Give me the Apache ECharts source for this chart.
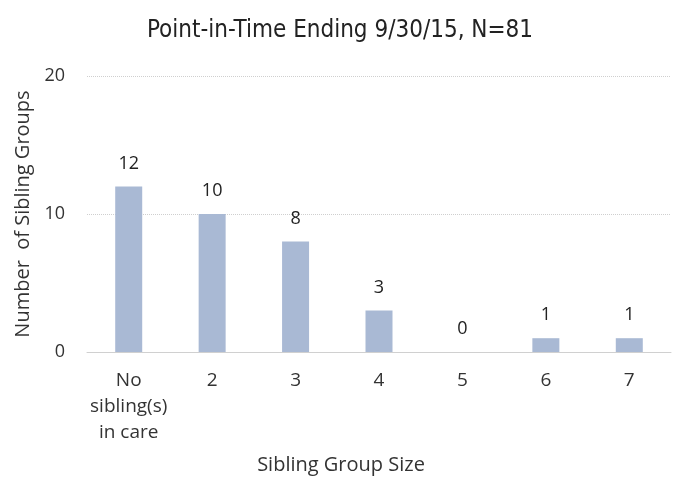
<!DOCTYPE html>
<html><head><meta charset="utf-8">
<script src="https://cdn.jsdelivr.net/npm/echarts@6/dist/echarts.min.js"></script>
<style>html,body{margin:0;padding:0;background:#fff}#c{width:680px;height:480px}</style>
</head><body><div id="c"></div>
<script>
var categories = ['No\nsibling(s)\nin care', '2', '3', '4', '5', '6', '7'];
var values = [12, 10, 8, 3, 0, 1, 1];
var yTicks = [0, 10, 20];
var titleText = 'Point-in-Time Ending 9/30/15, N=81';
var xName = 'Sibling Group Size';
var yName = 'Number  of Sibling Groups';

var chart = echarts.init(document.getElementById('c'));
chart.setOption({
  animation: false,
  title: {
    text: titleText, left: 'center', top: 14,
    textStyle: { fontFamily: 'DejaVu Sans Condensed, Liberation Sans Narrow, sans-serif', fontWeight: 'normal', fontSize: 24, color: '#222' }
  },
  grid: { left: 87, right: 9, top: 76, bottom: 127 },
  xAxis: {
    type: 'category', data: categories,
    axisLine: { show: true, lineStyle: { color: '#d0d0d0' } },
    axisTick: { show: false },
    axisLabel: { interval: 0, fontSize: 19, color: '#333', lineHeight: 26, margin: 16, fontFamily: 'Open Sans, sans-serif' },
    name: xName, nameLocation: 'middle', nameGap: 103,
    nameTextStyle: { fontSize: 20, color: '#333', fontFamily: 'Open Sans, sans-serif', padding: [0, 76, 0, 0] }
  },
  yAxis: {
    type: 'value', min: yTicks[0], max: yTicks[yTicks.length - 1], interval: 10,
    axisLine: { show: false }, axisTick: { show: false },
    splitLine: { lineStyle: { color: '#cfcfcf', type: 'dotted' } },
    axisLabel: { fontSize: 18, color: '#333', margin: 22, fontFamily: 'Open Sans, sans-serif' },
    name: yName, nameLocation: 'middle', nameGap: 52, nameRotate: 90,
    nameTextStyle: { fontSize: 20, color: '#333', fontFamily: 'Open Sans, sans-serif' }
  },
  series: [{
    type: 'bar', data: values, barWidth: 27,
    itemStyle: { color: '#a9b9d4' },
    label: { show: true, position: 'top', distance: 14, fontSize: 18, color: '#222', fontFamily: 'Open Sans, sans-serif' }
  }]
});
</script></body></html>
